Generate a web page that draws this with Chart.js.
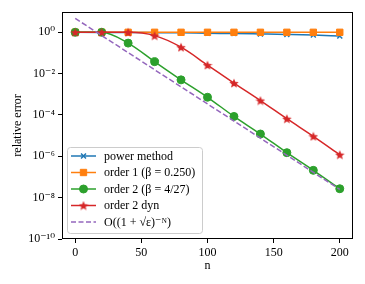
<!DOCTYPE html>
<html>
<head>
<meta charset="utf-8">
<script src="https://cdn.jsdelivr.net/npm/chart.js@4.4.1/dist/chart.umd.min.js"></script>
<style>
  html, body { margin: 0; padding: 0; background: #fff; }
  #wrap { width: 365px; height: 284px; position: relative; }
</style>
</head>
<body>
<div id="wrap"><canvas id="myChart" width="365" height="284"></canvas></div>
<script>
// data
var nValues = [0, 20, 40, 60, 80, 100, 120, 140, 160, 180, 200];
var powerMethod = [1, 0.99, 0.98, 0.96, 0.94, 0.9, 0.87, 0.83, 0.79, 0.74, 0.66];
var order1 = [1, 1, 1, 1, 1, 1, 1, 1, 1, 1, 1];
var order2 = [1, 1, 0.30, 0.038, 0.005, 7.2e-4, 8.5e-5, 1.2e-5, 1.5e-6, 2.1e-7, 2.7e-8];
var order2dyn = [1, 1, 1, 0.69, 0.19, 0.026, 3.5e-3, 5e-4, 6.6e-5, 9.3e-6, 1.2e-6];
var boundN = [0, 200];
var boundValues = [4.7, 2.5e-8];
var xTicks = [0, 50, 100, 150, 200];
var yTicks = [1, 1e-2, 1e-4, 1e-6, 1e-8, 1e-10];
var seriesLabels = ['power method', 'order 1 (\u03B2 = 0.250)', 'order 2 (\u03B2 = 4/27)', 'order 2 dyn', 'O((1 + \u221A\u03B5)\u207B\u1D3A)'];

var FONT = '"Liberation Serif", "DejaVu Serif", serif';
var FSIZE = 12;

function pts(xs, ys) {
  return xs.map(function(x, i) { return { x: x, y: ys[i] }; });
}

function sup(e) {
  var m = { '-': '\u207B', '0': '\u2070', '1': '\u00B9', '2': '\u00B2', '3': '\u00B3', '4': '\u2074',
            '5': '\u2075', '6': '\u2076', '7': '\u2077', '8': '\u2078', '9': '\u2079' };
  return String(e).split('').map(function(c) { return m[c]; }).join('');
}

// star marker
function makeStar(size, color) {
  var c = document.createElement('canvas');
  c.width = size; c.height = size;
  var g = c.getContext('2d');
  var cx = size / 2, cy = size / 2, R = size / 2, r = R * 0.45;
  g.beginPath();
  for (var i = 0; i < 10; i++) {
    var a = -Math.PI / 2 + i * Math.PI / 5;
    var rad = i % 2 === 0 ? R : r;
    g.lineTo(cx + rad * Math.cos(a), cy + rad * Math.sin(a) + 0.5);
  }
  g.closePath();
  g.fillStyle = color;
  g.fill();
  return c;
}
var starImg = makeStar(10, '#d62728');

var markers = [
  { style: 'crossRot', r: 3.5, w: 1.5 },
  { style: 'rect', r: 4.5, w: 0 },
  { style: 'circle', r: 4, w: 0 },
  { style: starImg, r: 5, w: 0 },
  { style: false, r: 0, w: 0 }
];
var colors = ['#1f77b4', '#ff7f0e', '#2ca02c', '#d62728', '#9467bd'];

var frameAndLegend = {
  id: 'frameAndLegend',
  afterDatasetsDraw: function(chart) {
    var ctx = chart.ctx, a = chart.chartArea;
    ctx.save();
    // legend box
    var lx = 67.5, ly = 147.5, lw = 135, lh = 86;
    ctx.beginPath();
    ctx.roundRect(lx, ly, lw, lh, 3);
    ctx.fillStyle = 'rgba(255,255,255,0.8)';
    ctx.fill();
    ctx.strokeStyle = '#cccccc';
    ctx.lineWidth = 1;
    ctx.stroke();
    ctx.font = FSIZE + 'px ' + FONT;
    ctx.textBaseline = 'middle';
    for (var i = 0; i < seriesLabels.length; i++) {
      var y = 156 + i * 16.5;
      ctx.strokeStyle = colors[i];
      ctx.lineWidth = 1.5;
      ctx.setLineDash(i === 4 ? [5, 2.5] : []);
      ctx.beginPath();
      ctx.moveTo(71, y);
      ctx.lineTo(96, y);
      ctx.stroke();
      ctx.setLineDash([]);
      var m = markers[i];
      if (m.style) {
        ctx.fillStyle = colors[i];
        ctx.strokeStyle = colors[i];
        ctx.lineWidth = m.w || 1;
        Chart.helpers.drawPoint(ctx, {
          pointStyle: m.style, radius: m.r, borderWidth: m.w || 1, rotation: 0
        }, 83.5, y);
      }
      ctx.fillStyle = '#000';
      ctx.fillText(seriesLabels[i], 104, y + 0.5);
    }
    // frame
    ctx.strokeStyle = '#000';
    ctx.lineWidth = 1;
    ctx.strokeRect(a.left + 0.5, a.top + 0.5, a.right - a.left - 1, a.bottom - a.top - 1);
    ctx.restore();
  }
};

document.addEventListener('DOMContentLoaded', function() {
  var ctx = document.getElementById('myChart').getContext('2d');
  var ys = [powerMethod, order1, order2, order2dyn];
  var datasets = ys.map(function(vals, i) {
    return {
      label: seriesLabels[i],
      data: pts(nValues, vals),
      borderColor: colors[i],
      backgroundColor: colors[i],
      borderWidth: 1.5,
      pointStyle: markers[i].style,
      pointRadius: markers[i].r,
      pointBorderWidth: markers[i].w || 1,
      cubicInterpolationMode: 'monotone',
      order: 4 - i
    };
  });
  datasets.push({
    label: seriesLabels[4],
    data: pts(boundN, boundValues),
    borderColor: colors[4],
    borderWidth: 1.5,
    borderDash: [5.5, 2.5],
    pointRadius: 0,
    order: 0
  });

  var myChart = new Chart(ctx, {
    type: 'line',
    data: { datasets: datasets },
    plugins: [frameAndLegend],
    options: {
      responsive: false,
      animation: false,
      layout: { padding: { left: 0, top: 12, right: 12, bottom: 0 } },
      plugins: { legend: { display: false }, tooltip: { enabled: false } },
      scales: {
        x: {
          type: 'linear',
          min: -10, max: 210,
          afterBuildTicks: function(s) { s.ticks = xTicks.map(function(v) { return { value: v }; }); },
          afterFit: function(s) { s.height = 45; },
          grid: { drawOnChartArea: false, drawTicks: true, tickLength: 4, color: '#000' },
          border: { display: false },
          ticks: { color: '#000', font: { family: FONT, size: FSIZE }, padding: 3, maxRotation: 0 },
          title: { display: true, text: 'n', color: '#000', font: { family: FONT, size: FSIZE }, padding: { top: 11, bottom: 11 } }
        },
        y: {
          type: 'logarithmic',
          min: 1e-10, max: 9.6,
          afterBuildTicks: function(s) { s.ticks = yTicks.map(function(v) { return { value: v }; }); },
          afterFit: function(s) { s.width = 62; },
          grid: { drawOnChartArea: false, drawTicks: true, tickLength: 4, color: '#000' },
          border: { display: false },
          ticks: {
            color: '#000', font: { family: FONT, size: FSIZE }, padding: 3,
            callback: function(v) { return '10' + sup(Math.round(Math.log10(v))); }
          },
          title: { display: true, text: 'relative error', color: '#000', font: { family: FONT, size: FSIZE }, padding: { top: 11, bottom: 11 } }
        }
      }
    }
  });
});
</script>
</body>
</html>
